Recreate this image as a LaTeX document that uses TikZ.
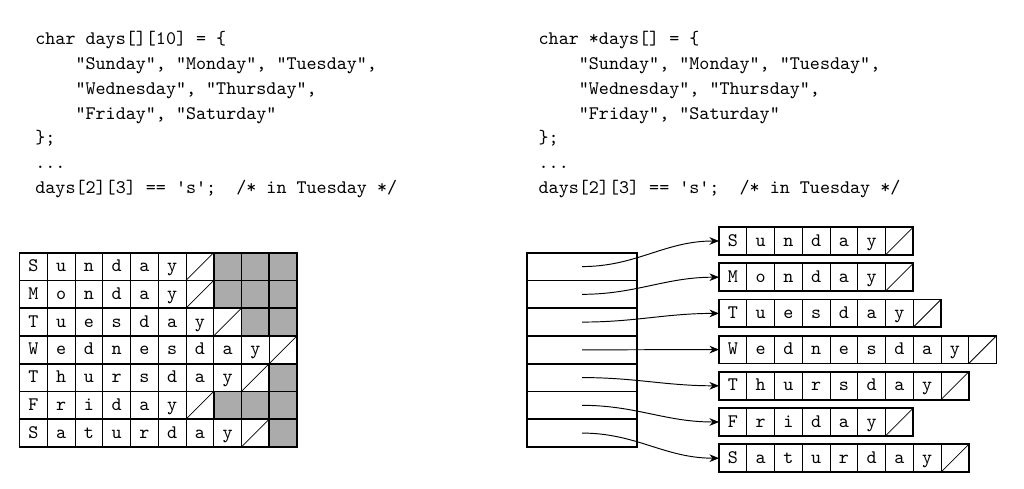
\documentclass[tikz,border=0pt]{standalone}
\usepackage{fontspec}
\setmonofont{lmmono10-regular.otf}
\usepackage{xstring}
\usetikzlibrary{arrows.meta}

\begin{document}
\begin{tikzpicture}[
    x=0.5225pt,y=-0.5225pt,
    code/.style={anchor=base west,inner sep=0pt,font=\ttfamily},
    cell/.style={draw,line width=0.5pt,minimum size=14.5pt,inner sep=0pt,outer sep=0pt,
      text height=1.5ex,text depth=0.25ex,font=\ttfamily},
    pad/.style={cell,fill=black!33,line width=0.9pt},
    slot/.style={draw,line width=0.9pt,minimum width=57.2pt,minimum height=14.5pt,inner sep=0pt,outer sep=0pt},
    frame/.style={line width=0.9pt},
    nul/.style={line width=0.4pt},
    ptr/.style={-{Stealth[length=5pt,width=4pt]},line width=0.5pt}
  ]
  \useasboundingbox (0,0) rectangle (1024,489);

  % array of char[10]
  \node[code] (lc1) at (35,45)    {char days[][10] = \{};
  \node[code] (lc2) at (75.2,69.7)  {"Sunday", "Monday", "Tuesday",};
  \node[code] (lc3) at (75.2,94.4)  {"Wednesday", "Thursday",};
  \node[code] (lc4) at (75.2,119.1) {"Friday", "Saturday"};
  \node[code] (lc5) at (35,143.8) {\};};
  \node[code] (lc6) at (35,168.5) {...};
  \node[code] (lc7) at (35,193.2) {days[2][3] == 's';~~/* in Tuesday */};

  % array of pointers
  \node[code] (rc1) at (538.3,45)    {char *days[] = \{};
  \node[code] (rc2) at (578.5,69.7)  {"Sunday", "Monday", "Tuesday",};
  \node[code] (rc3) at (578.5,94.4)  {"Wednesday", "Thursday",};
  \node[code] (rc4) at (578.5,119.1) {"Friday", "Saturday"};
  \node[code] (rc5) at (538.3,143.8) {\};};
  \node[code] (rc6) at (538.3,168.5) {...};
  \node[code] (rc7) at (538.3,193.2) {days[2][3] == 's';~~/* in Tuesday */};

  \foreach \w [count=\row from 0] in {Sunday,Monday,Tuesday,Wednesday,Thursday,Friday,Saturday} {
    \StrLen{\w}[\len]
    \pgfmathtruncatemacro\z{\len+1}
    \pgfmathtruncatemacro\p{\len+2}
    % fixed rows of ten
    \foreach \k in {1,...,\len}
      \node[cell] (L\row-\k) at ({19.5+27.75*(\k-0.5)},{252.7+27.75*(\row+0.5)}) {\StrChar{\w}{\k}};
    \node[cell] (L\row-\z) at ({19.5+27.75*(\z-0.5)},{252.7+27.75*(\row+0.5)}) {};
    \draw[nul] (L\row-\z.south west) -- (L\row-\z.north east);
    \ifnum\z<10
      \foreach \k in {\p,...,10}
        \node[pad] (L\row-\k) at ({19.5+27.75*(\k-0.5)},{252.7+27.75*(\row+0.5)}) {};
    \fi
    \draw[frame] (L\row-1.north west) rectangle (L\row-10.south east);
    % pointer slot and its string
    \node[slot] (P\row) at (582,{252.7+27.75*(\row+0.5)}) {};
    \foreach \k in {1,...,\len}
      \node[cell] (S\row-\k) at ({719+27.75*(\k-0.5)},{241+36.2*\row}) {\StrChar{\w}{\k}};
    \node[cell] (S\row-\z) at ({719+27.75*(\z-0.5)},{241+36.2*\row}) {};
    \draw[nul] (S\row-\z.south west) -- (S\row-\z.north east);
    \draw[frame] (S\row-1.north west) rectangle (S\row-\z.south east);
    \draw[ptr] (P\row.center) to[out=0,in=180] (S\row-1.west);
  }
\end{tikzpicture}
\end{document}
